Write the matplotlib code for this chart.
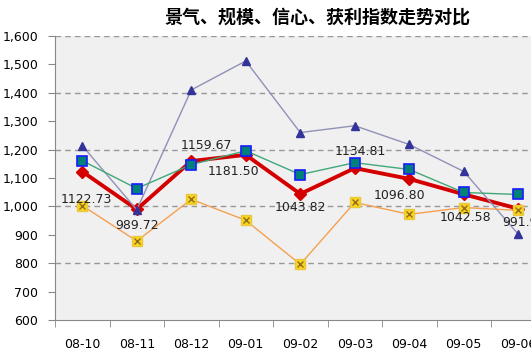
"""
景气、规模、信心、获利指数走势对比 - line chart
"""

import matplotlib
matplotlib.use('Agg')
import matplotlib.pyplot as plt
import numpy as np

plt.rcParams['font.family'] = ['DejaVu Sans', 'Noto Sans CJK SC']

months = ['08-10', '08-11', '08-12', '09-01', '09-02', '09-03', '09-04', '09-05', '09-06']
composite = [1122.73, 989.72, 1159.67, 1181.50, 1043.82, 1134.81, 1096.80, 1042.58, 991.93]
scale_idx = [1214, 988, 1410, 1512, 1260, 1284, 1218, 1123, 902]
confidence = [1161, 1063, 1147, 1196, 1112, 1154, 1130, 1049, 1042]
profit = [1003, 878, 1025, 951, 796, 1014, 972, 996, 986]

# label offsets (points) for the composite values
label_offsets = [(3, -20), (0, -12), (11, 11), (-9, -12), (0, -10),
                 (4, 12), (-7, -12), (1, -17), (4, -10)]

fig = plt.figure(figsize=(5.31, 3.53), dpi=100)
ax = fig.add_axes([55 / 531, 33 / 353, 545 / 531, 284 / 353])
ax.set_facecolor('#f0f0f0')

x = np.arange(len(months))

ax.plot(x, composite, color='#d40000', lw=2.8, marker='D', markersize=6.5,
        markerfacecolor='#d40000', markeredgecolor='#d40000', zorder=3)
ax.plot(x, scale_idx, color='#9090b8', lw=1.0, marker='^', markersize=6,
        markerfacecolor='#333399', markeredgecolor='#333399', zorder=4)
ax.plot(x, confidence, color='#40a878', lw=1.0, marker='s', markersize=7,
        markerfacecolor='#00807a', markeredgecolor='#1a1aff', markeredgewidth=1.2, zorder=5)
ax.plot(x, profit, color='#f5a050', lw=1.0, marker='s', markersize=7,
        markerfacecolor='#ffd21a', markeredgecolor='#e8c840', zorder=4)
ax.plot(x, profit, lw=0, marker='x', markersize=5, markeredgecolor='#8a7020',
        markeredgewidth=1.0, zorder=4)

for i, v in enumerate(composite):
    ax.annotate(f'{v:.2f}', (x[i], v), xytext=label_offsets[i], textcoords='offset points',
                ha='center', va='center', fontsize=9, color='#222222', zorder=6)

ax.set_xlim(-0.5, 9.5)
ax.set_ylim(600, 1600)
ax.set_yticks(np.arange(600, 1601, 100))
ax.set_yticklabels([f'{v:,}' for v in range(600, 1601, 100)], fontsize=9)
ax.set_xticks(x)
ax.set_xticklabels(months, fontsize=9)
ax.set_xticks(np.arange(-0.5, 9.6, 1), minor=True)
ax.tick_params(axis='x', which='major', length=0, pad=13)
ax.tick_params(axis='x', which='minor', length=5, color='#888888')
ax.tick_params(axis='y', length=5, color='#888888', pad=7)

for v in range(800, 1601, 200):
    ax.axhline(v, color='#989898', lw=1.0, ls=(0, (4, 3)), zorder=1)

for s in ['top', 'right']:
    ax.spines[s].set_visible(False)
for s in ['left', 'bottom']:
    ax.spines[s].set_color('#888888')

fig.text(317 / 531, 1 - 17 / 353, '景气、规模、信心、获利指数走势对比', ha='center', va='center',
         fontsize=13, fontweight='bold', family=['Noto Sans CJK SC'])

plt.savefig('out.png', dpi=100)
plt.close()
